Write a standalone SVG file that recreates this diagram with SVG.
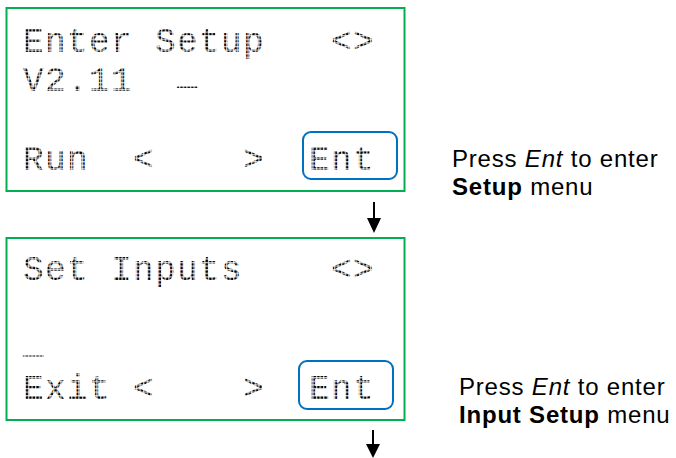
<svg xmlns="http://www.w3.org/2000/svg" width="676" height="458" viewBox="0 0 676 458">
  <defs>
    <!-- dot grid used to give the LCD lettering a dot-matrix texture -->
    <pattern id="lcd-dots" patternUnits="userSpaceOnUse" width="3.6" height="3.6">
      <rect x="0.3" y="0.3" width="2.6" height="2.6" fill="#000"/>
    </pattern>
  </defs>
  <style>
    .screen { fill: #fff; stroke: #00B050; stroke-width: 2; }
    .key { fill: none; stroke: #0070C0; stroke-width: 2; }
    /* 16-character LCD rows on a 22px character pitch */
    .lcd { font-family: "Liberation Mono", "DejaVu Sans Mono", monospace; font-size: 34.4px; letter-spacing: 1.36px; fill: url(#lcd-dots); white-space: pre; }
    .note { font-family: "Liberation Sans", Arial, sans-serif; font-size: 24px; letter-spacing: 0.8px; fill: #000; }
    .conn { stroke: #000; stroke-width: 2; fill: none; }
    .head { fill: #000; }
  </style>
  <rect width="676" height="458" fill="#fff"/>

  <!-- Screen 1: Enter Setup -->
  <g id="screen-enter-setup">
    <rect class="screen" x="6.5" y="8" width="398" height="183"/>
    <text class="lcd" xml:space="preserve"><tspan x="23" y="52">Enter Setup   &lt;&gt;</tspan><tspan x="23" y="91">V2.11  </tspan><tspan dy="-7">_</tspan></text>
    <text class="lcd" x="23" y="170" xml:space="preserve">Run  &lt;    &gt;  Ent</text>
    <rect class="key" x="303" y="132" width="94" height="47" rx="8"/>
  </g>

  <!-- Screen 2: Set Inputs -->
  <g id="screen-set-inputs">
    <rect class="screen" x="6.5" y="238" width="398" height="182"/>
    <text class="lcd" x="23" y="280" xml:space="preserve">Set Inputs    &lt;&gt;</text>
    <text class="lcd" xml:space="preserve"><tspan x="23" y="353">_</tspan><tspan x="23" y="399">Exit &lt;    &gt;  Ent</tspan></text>
    <rect class="key" x="299" y="361" width="94" height="48" rx="8"/>
  </g>

  <!-- Notes -->
  <g id="note-setup">
    <text class="note"><tspan x="452" y="167">Press <tspan font-style="italic">Ent</tspan> to enter</tspan><tspan x="452" y="195"><tspan font-weight="bold">Setup</tspan> menu</tspan></text>
  </g>
  <g id="note-input-setup">
    <text class="note"><tspan x="459" y="395">Press <tspan font-style="italic">Ent</tspan> to enter</tspan><tspan x="459" y="423"><tspan font-weight="bold">Input Setup</tspan> menu</tspan></text>
  </g>

  <!-- Connectors -->
  <g id="connectors">
    <line class="conn" x1="374" y1="202" x2="374" y2="220"/>
    <polygon class="head" points="367,218 381,218 374,233"/>
    <line class="conn" x1="373" y1="430" x2="373" y2="446"/>
    <polygon class="head" points="366,444 380,444 373,458"/>
  </g>
</svg>
